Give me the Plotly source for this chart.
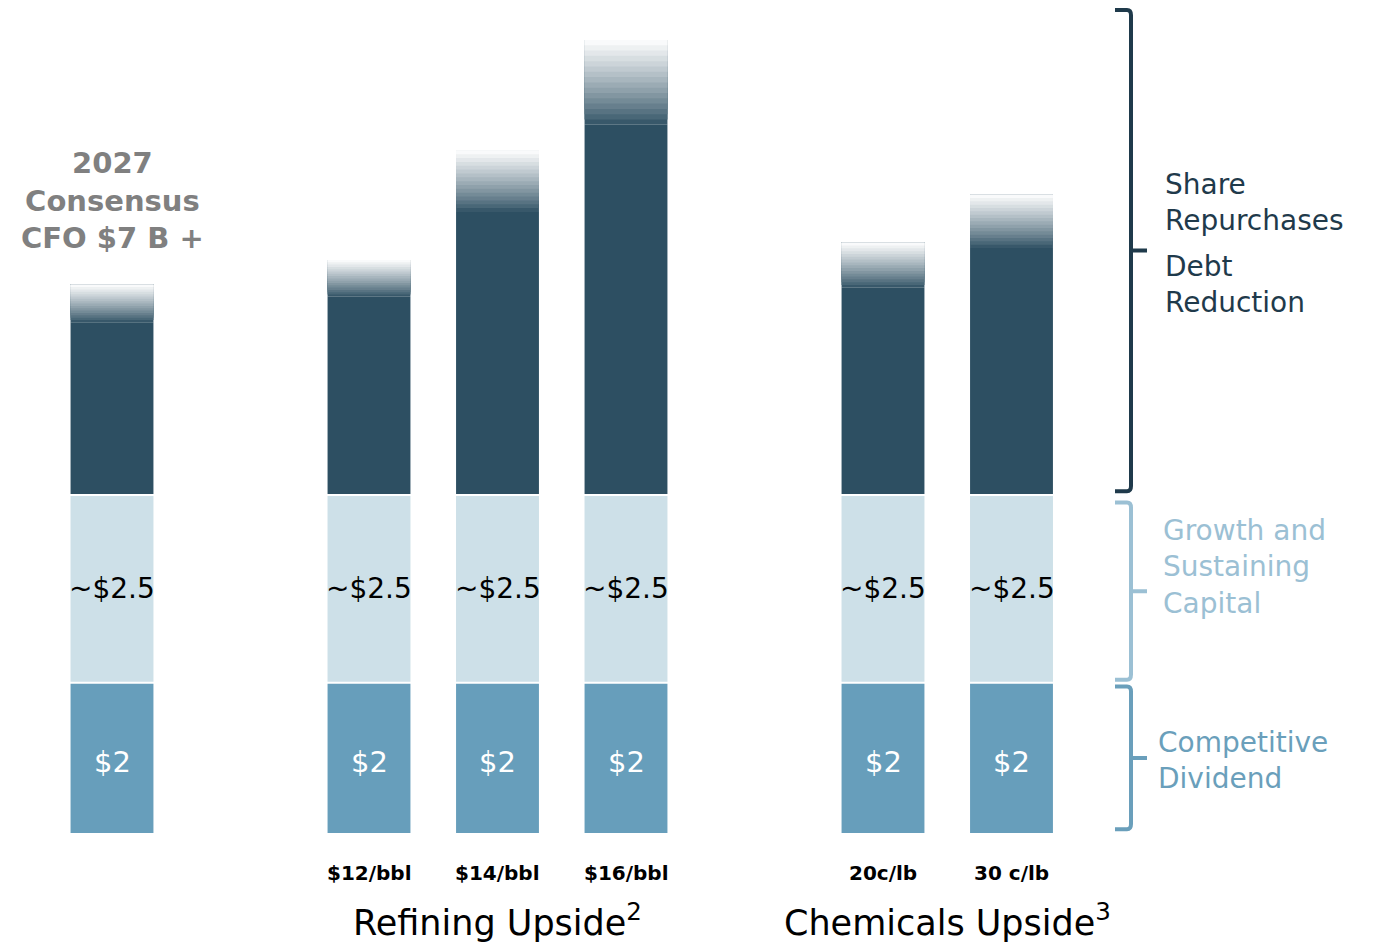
import plotly.graph_objects as go

# ---- data ----
positions = [0, 2, 3, 4, 6, 7]
category_labels = ["", "$12/bbl", "$14/bbl", "$16/bbl", "20c/lb", "30 c/lb"]
dividend = [2, 2, 2, 2, 2, 2]
capex = [2.5, 2.5, 2.5, 2.5, 2.5, 2.5]
excess_solid = [2.3, 2.64, 3.77, 4.93, 2.76, 3.29]
excess_fade = [0.5, 0.49, 0.82, 1.13, 0.6, 0.71]
dividend_labels = ["$2"] * 6
capex_labels = ["~$2.5"] * 6
groups = {"Refining Upside<sup>2</sup>": [2, 3, 4], "Chemicals Upside<sup>3</sup>": [6, 7]}

# ---- style ----
DARK = (45, 79, 98)
LIGHT = "rgb(205,224,232)"
BLUE = "rgb(103,158,187)"
BAR_W = 0.645
FONT = "DejaVu Sans"
N_FADE = 16

fig = go.Figure()
base_div = [0] * 6
base_cap = [d for d in dividend]
base_dark = [d + c for d, c in zip(dividend, capex)]
base_fade = [b + s for b, s in zip(base_dark, excess_solid)]

fig.add_trace(go.Bar(x=positions, y=dividend, base=base_div, width=BAR_W,
                     marker=dict(color=BLUE, line=dict(width=0))))
fig.add_trace(go.Bar(x=positions, y=excess_solid, base=base_dark, width=BAR_W,
                     marker=dict(color="rgb(%d,%d,%d)" % DARK, line=dict(width=0))))
# fade: each step spans from its start up to the top, lighter steps drawn over darker
for k in range(N_FADE):
    t = (k + 0.5) / N_FADE
    t = t ** 0.85
    col = tuple(int(round(c * (1 - t) + 255 * t)) for c in DARK)
    b = [bf + f * k / N_FADE for bf, f in zip(base_fade, excess_fade)]
    seg = [f * (N_FADE - k) / N_FADE for f in excess_fade]
    fig.add_trace(go.Bar(x=positions, y=seg, base=b, width=BAR_W,
                         marker=dict(color="rgb(%d,%d,%d)" % col, line=dict(width=0))))
fig.add_trace(go.Bar(x=positions, y=capex, base=base_cap, width=BAR_W + 0.016,
                     marker=dict(color=LIGHT, line=dict(width=2, color="white"))))

annotations = []
for p, d, c, dl, cl, lab in zip(positions, dividend, capex, dividend_labels, capex_labels, category_labels):
    annotations.append(dict(x=p, y=d / 2 - 0.05, text=dl, showarrow=False, xref="x", yref="y",
                            font=dict(family=FONT, size=29, color="white")))
    annotations.append(dict(x=p, y=d + c / 2, text=cl, showarrow=False, xref="x", yref="y",
                            font=dict(family=FONT, size=28, color="black")))
    if lab:
        annotations.append(dict(x=p, y=-0.53, text="<b>%s</b>" % lab, showarrow=False,
                                font=dict(family=FONT, size=20, color="black")))
for title, ps in groups.items():
    annotations.append(dict(x=sum(ps) / len(ps), y=-1.16, text=title, showarrow=False,
                            font=dict(family=FONT, size=35, color="black")))

annotations.append(dict(x=positions[0], y=8.42, text="<b>2027<br>Consensus<br>CFO $7 B +</b>",
                        showarrow=False, align="center",
                        font=dict(family=FONT, size=29, color="rgb(128,128,128)")))

# right side labels
XB = 1131 / 1378
tip = 16 / 1378
r = 4 / 1378
right_labels = [
    (1166 / 1378, 8.40, "Share<br>Repurchases", "rgb(31,58,75)"),
    (1166 / 1378, 7.30, "Debt<br>Reduction", "rgb(31,58,75)"),
    (1164 / 1378, 3.54, "Growth and<br>Sustaining<br>Capital", "rgb(155,192,212)"),
    (1159 / 1378, 0.96, "Competitive<br>Dividend", "rgb(106,159,187)"),
]
for x, y, txt, col in right_labels:
    annotations.append(dict(x=x, y=y, xref="paper", yref="y", text=txt, showarrow=False,
                            xanchor="left", align="left", xshift=-3,
                            font=dict(family=FONT, size=28, color=col)))

shapes = []
top_total = max(b + f for b, f in zip(base_fade, excess_fade))
brackets = [
    (0.05, dividend[0] - 0.05, "rgb(106,159,187)"),
    (dividend[0] + 0.04, dividend[0] + capex[0] - 0.1, "rgb(155,192,212)"),
    (dividend[0] + capex[0] + 0.05, top_total + 0.4, "rgb(31,58,75)"),
]
ry = 0.07
for y0, y1, col in brackets:
    ym = (y0 + y1) / 2
    path = ("M %f,%f L %f,%f Q %f,%f %f,%f L %f,%f Q %f,%f %f,%f L %f,%f "
            "M %f,%f L %f,%f") % (
        XB - tip, y0, XB - r, y0, XB, y0, XB, y0 + ry, XB, y1 - ry, XB, y1, XB - r, y1,
        XB - tip, y1, XB, ym, XB + tip, ym)
    shapes.append(dict(type="path", xref="paper", yref="y", path=path,
                       line=dict(color=col, width=4)))

px_unit = 128.5
xmin = -112 / px_unit
ymin = -(945 - 833) / 75.1
fig.update_layout(
    width=1378, height=945, margin=dict(l=0, r=0, t=0, b=0),
    barmode="overlay", showlegend=False,
    plot_bgcolor="white", paper_bgcolor="white",
    xaxis=dict(range=[xmin, xmin + 1378 / px_unit], visible=False, fixedrange=True),
    yaxis=dict(range=[ymin, ymin + 945 / 75.1], visible=False, fixedrange=True),
    annotations=annotations, shapes=shapes,
)
fig.write_html("out.html")
